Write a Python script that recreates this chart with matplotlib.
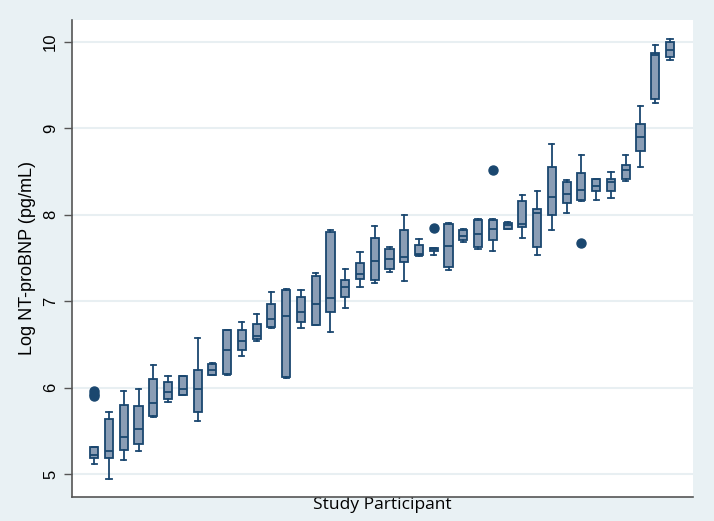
import matplotlib.pyplot as plt

# per-participant box statistics (log NT-proBNP)
q1 = [5.18, 5.18, 5.28, 5.35, 5.67, 5.87, 5.91, 5.72, 6.15, 6.16,
      6.44, 6.56, 6.70, 6.12, 6.76, 6.72, 6.88, 7.05, 7.26, 7.24,
      7.37, 7.45, 7.53, 7.58, 7.40, 7.71, 7.63, 7.71, 7.84, 7.86,
      7.63, 8.00, 8.14, 8.17, 8.27, 8.28, 8.41, 8.74, 9.34, 9.83]
medians = [5.22, 5.27, 5.43, 5.52, 5.82, 5.95, 5.98, 5.98, 6.20, 6.44,
           6.54, 6.60, 6.79, 6.83, 6.87, 6.97, 7.04, 7.16, 7.32, 7.46,
           7.49, 7.51, 7.55, 7.61, 7.64, 7.76, 7.78, 7.84, 7.88, 7.89,
           8.02, 8.21, 8.24, 8.29, 8.33, 8.38, 8.52, 8.90, 9.85, 9.91]
q3 = [5.31, 5.64, 5.80, 5.79, 6.10, 6.06, 6.13, 6.20, 6.27, 6.67,
      6.67, 6.74, 6.97, 7.13, 7.05, 7.29, 7.80, 7.24, 7.44, 7.73,
      7.61, 7.82, 7.65, 7.62, 7.89, 7.82, 7.94, 7.94, 7.91, 8.16,
      8.07, 8.55, 8.38, 8.48, 8.41, 8.42, 8.58, 9.05, 9.87, 10.00]
whisker_low = [5.11, 4.94, 5.16, 5.27, 5.66, 5.83, 5.91, 5.61, 6.15, 6.15,
               6.37, 6.54, 6.69, 6.11, 6.69, 6.72, 6.64, 6.92, 7.16, 7.21,
               7.34, 7.23, 7.52, 7.53, 7.36, 7.69, 7.60, 7.58, 7.84, 7.73,
               7.53, 7.82, 8.02, 8.16, 8.17, 8.19, 8.39, 8.55, 9.30, 9.79]
whisker_high = [5.31, 5.72, 5.96, 5.98, 6.26, 6.14, 6.13, 6.57, 6.28, 6.67,
                6.76, 6.85, 7.11, 7.14, 7.13, 7.33, 7.82, 7.37, 7.57, 7.87,
                7.63, 8.00, 7.72, 7.62, 7.90, 7.84, 7.95, 7.95, 7.92, 8.23,
                8.28, 8.82, 8.40, 8.69, 8.42, 8.49, 8.69, 9.26, 9.97, 10.03]
outliers = {0: [5.96, 5.93, 5.90], 23: [7.85], 27: [8.52], 33: [7.67]}

y_ticks = [5, 6, 7, 8, 9, 10]

NAVY = "#1A476F"
FILL = "#8A9DB5"
BG = "#E9F1F4"

stats = []
for i in range(len(medians)):
    stats.append(
        {
            "q1": q1[i],
            "med": medians[i],
            "q3": q3[i],
            "whislo": whisker_low[i],
            "whishi": whisker_high[i],
            "fliers": outliers.get(i, []),
        }
    )

fig = plt.figure(figsize=(7.14, 5.21), dpi=100, facecolor=BG)
ax = fig.add_axes([0.1008, 0.0461, 0.8698, 0.9155])
ax.set_facecolor("white")

ax.bxp(
    stats,
    positions=range(1, len(stats) + 1),
    widths=0.55,
    capwidths=0.35,
    patch_artist=True,
    boxprops=dict(facecolor=FILL, edgecolor=NAVY, linewidth=1.3),
    medianprops=dict(color=NAVY, linewidth=1.3),
    whiskerprops=dict(color=NAVY, linewidth=1.3),
    capprops=dict(color=NAVY, linewidth=1.3),
    flierprops=dict(marker="o", markersize=6.5, markerfacecolor=NAVY,
                    markeredgecolor=NAVY),
)

ax.set_xlim(-0.51, 41.56)
ax.set_ylim(4.734, 10.255)
ax.set_yticks(y_ticks)
ax.set_yticklabels([str(t) for t in y_ticks], rotation=90, va="center",
                   family="Liberation Sans", fontsize=12)
ax.set_xticks([])
ax.tick_params(axis="y", length=6, width=1, color="#555555", pad=4)

ax.grid(axis="y", color="#E8EFF2", linewidth=1.5)
ax.set_axisbelow(True)

for side in ["top", "right"]:
    ax.spines[side].set_visible(False)
for side in ["left", "bottom"]:
    ax.spines[side].set_color("#555555")
    ax.spines[side].set_linewidth(1.2)

ax.set_ylabel("Log NT-proBNP (pg/mL)", family="Liberation Sans",
              fontsize=13, labelpad=5)
ax.set_xlabel("Study Participant", family="Open Sans", fontsize=12.5,
              labelpad=0)

fig.savefig("out.png", dpi=100, facecolor=BG)
